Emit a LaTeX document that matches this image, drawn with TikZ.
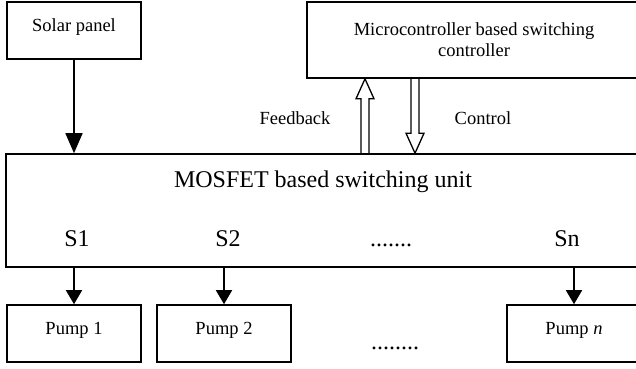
\documentclass[tikz,border=0pt]{standalone}
\usepackage{fontspec}
\setmainfont{Liberation Serif}
\usetikzlibrary{positioning, arrows.meta, calc}

\newcommand{\smalltxt}{\fontsize{18.5}{21}\selectfont}
\newcommand{\bigtxt}{\fontsize{24}{28}\selectfont}

\begin{document}
\begin{tikzpicture}[x=1pt, y=-1pt, line width=1.6pt,
    block/.style={draw, rectangle, minimum height=57pt, minimum width=134pt, inner sep=0pt, font=\smalltxt},
    boxtext/.style={text height=13pt, text depth=12pt},
    lbl/.style={inner sep=0pt, anchor=base},
    flow/.style={-{Triangle[length=14pt, width=16pt]}},
    hollow/.style={draw, line width=1.3pt, line join=miter}]
  \useasboundingbox (0,0) rectangle (636,368);

  % top row
  \node[block, boxtext] (solar) at (74,30.5) {Solar panel};
  \node[block, minimum width=334pt, minimum height=76pt, align=center] (micro) at (474,40)
    {Microcontroller based switching\\controller};

  % switching unit
  \node[block, minimum width=636pt, minimum height=113pt] (unit) at (324,210.5) {};
  \node[lbl, font=\bigtxt] (title) at (323,187) {MOSFET based switching unit};
  \node[lbl, font=\bigtxt] (s1) at (77,246) {S1};
  \node[lbl, font=\bigtxt] (s2) at (228,246) {S2};
  \node[lbl, font=\bigtxt] (sdots) at (391,246) {.......};
  \node[lbl, font=\bigtxt] (sn) at (567,246) {Sn};

  % pumps
  \node[block, boxtext] (p1) at (74,333.5) {Pump 1};
  \node[block, boxtext] (p2) at (224,333.5) {Pump 2};
  \node[block, boxtext] (pn) at (574,333.5) {Pump \textit{n}};
  \node[lbl, font=\bigtxt] (pdots) at (395,349) {........};

  % feedback / control labels
  \node[lbl, font=\smalltxt] (fblbl) at (295,124) {Feedback};
  \node[lbl, font=\smalltxt] (ctlbl) at (483,124) {Control};

  \draw[-{Triangle[length=20pt, width=17pt]}] (solar.south) -- (solar.south |- unit.north);
  \draw[flow] (p1.north |- unit.south) -- (p1.north);
  \draw[flow] (p2.north |- unit.south) -- (p2.north);
  \draw[flow] (pn.north |- unit.south) -- (pn.north);

  % hollow arrows
  \coordinate (fb) at (365,0);
  \coordinate (ct) at (415,0);
  \draw[hollow] ($(fb |- unit.north)+(-4,0)$) -- ($(fb |- micro.south)+(-4,20)$) -- ++(-5,0)
    -- (fb |- micro.south) -- ++(9,20) -- ++(-5,0) -- ($(fb |- unit.north)+(4,0)$);
  \draw[hollow] ($(ct |- micro.south)+(-4,0)$) -- ($(ct |- unit.north)+(-4,-20)$) -- ++(-5,0)
    -- (ct |- unit.north) -- ++(9,-20) -- ++(-5,0) -- ($(ct |- micro.south)+(4,0)$);
\end{tikzpicture}
\end{document}
